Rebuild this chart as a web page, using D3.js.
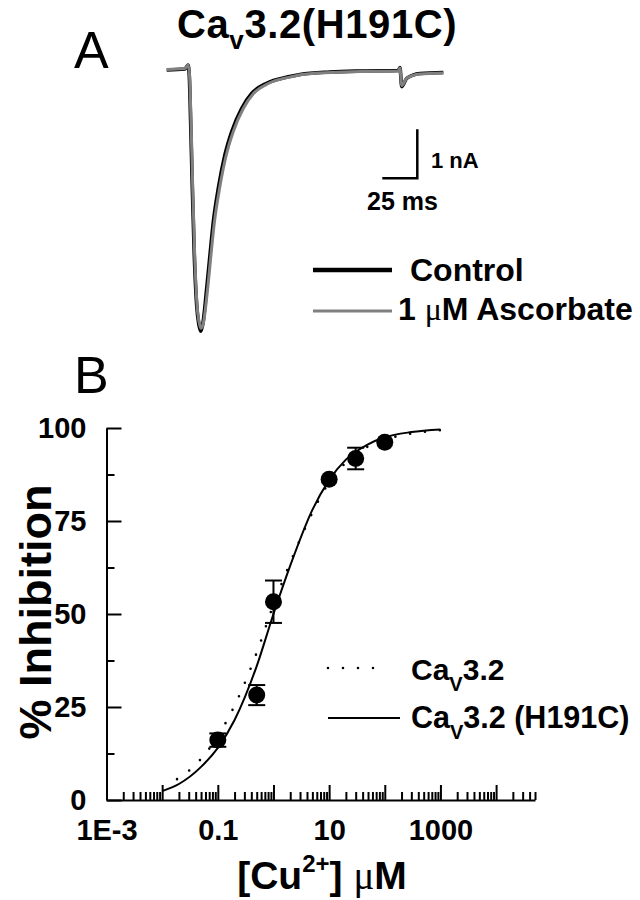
<!DOCTYPE html>
<html>
<head>
<meta charset="utf-8">
<script src="https://cdn.jsdelivr.net/npm/d3@7"></script>
<style>
  html, body { margin: 0; padding: 0; background: #fff; }
  svg { display: block; font-family: "Liberation Sans", Arial, sans-serif; }
  .bold { font-weight: bold; }
</style>
</head>
<body>
<svg id="fig" width="640" height="900"></svg>
<script>
// ---- panel A : current traces (ms, nA) ----
const controlTime = [0, 13, 15.2, 16.1, 17.1, 18.3, 19.7, 21.4, 23.0, 24.3, 25.8, 28.6, 30.9, 33.3, 36.9, 41.6, 46.4, 53.6, 60.7, 71.4, 86.9, 95.2, 116.6, 140.2, 165.4, 166.6, 167.9, 171.4, 180.9, 197.6];
const controlCurrent = [0, 0.02, 0.1, -0.1, -1.06, -2.41, -3.78, -4.80, -5.20, -5.33, -5.18, -4.45, -3.78, -3.10, -2.41, -1.73, -1.26, -0.78, -0.48, -0.27, -0.14, -0.09, -0.04, -0.02, -0.01, 0.05, -0.34, -0.17, -0.07, -0.05];
const ascorbateTime = [0, 13, 15.3, 16.3, 17.4, 18.6, 20.0, 21.7, 23.4, 24.6, 26.3, 29.3, 31.6, 34.1, 37.8, 42.6, 47.5, 54.8, 62.0, 73.0, 88.5, 97, 118, 141, 165.4, 166.6, 167.9, 171.4, 180.9, 197.6];
const ascorbateCurrent = [0.01, 0.03, 0.1, -0.1, -1.06, -2.41, -3.78, -4.80, -5.18, -5.27, -5.15, -4.45, -3.78, -3.10, -2.41, -1.73, -1.26, -0.78, -0.48, -0.27, -0.14, -0.09, -0.05, -0.03, -0.02, 0.04, -0.32, -0.17, -0.08, -0.06];
const scaleBarMs = 25;
const scaleBarNA = 1;

// ---- panel B : dose response ----
const cuConc = [0.1, 0.5, 1, 10, 30, 100];
const inhibition = [16.1, 28.2, 53.3, 86.2, 91.8, 96.2];
const inhibitionErr = [1.8, 2.7, 5.7, 0, 2.9, 0];

const fitH191CConc = [0.01, 0.02, 0.05, 0.1, 0.2, 0.5, 1, 2, 5, 10, 20, 50, 100, 300, 1000];
const fitH191CVal = [2.4, 4.3, 8.9, 14, 21.5, 36, 50, 63, 78, 86, 91.5, 95.6, 97.5, 98.9, 99.6];
const fitWTConc = [0.0185, 0.0333, 0.0587, 0.132, 0.242, 0.5, 1, 1.93, 3.21, 10, 30, 100, 213, 1000];
const fitWTVal = [5.6, 8.4, 12.3, 20.2, 28, 39.6, 52.5, 63.2, 71, 85.4, 92.9, 96.9, 98.1, 99.4];

const yTicks = [0, 25, 50, 75, 100];
const yMinorTicks = [12.5, 37.5, 62.5, 87.5];
const xMajorTicks = [1e-3, 1e-2, 1e-1, 1, 10, 100, 1000, 1e4];
const xLabelTicks = [1e-3, 0.1, 10, 1000];
const xTickLabels = ["1E-3", "0.1", "10", "1000"];

const svg = d3.select("#fig");
const serif = "'Liberation Serif', 'DejaVu Serif', serif";

// ================= Panel A =================
svg.append("text").attr("x", 74).attr("y", 68).attr("font-size", 52).text("A");
svg.append("text").attr("x", 74).attr("y", 393).attr("font-size", 52).text("B");

const title = svg.append("text").attr("class", "bold").attr("x", 177).attr("y", 38)
  .attr("font-size", 40).attr("letter-spacing", 0.6);
title.append("tspan").text("Ca");
title.append("tspan").attr("font-size", 26).attr("dy", 11).text("v");
title.append("tspan").attr("dy", -11).text("3.2(H191C)");

const tx = d3.scaleLinear().domain([0, 100]).range([166.7, 306.7]);
const ty = d3.scaleLinear().domain([0, -1]).range([70, 119]);

const traceLine = d3.line()
  .x(d => tx(d[0]))
  .y(d => ty(d[1]))
  .curve(d3.curveMonotoneX);

const controlData = controlTime.map((t, i) => [t, controlCurrent[i]]);
const ascorbateData = ascorbateTime.map((t, i) => [t, ascorbateCurrent[i]]);

svg.append("path").datum(controlData)
  .attr("d", traceLine).attr("fill", "none")
  .attr("stroke", "#000").attr("stroke-width", 3.6).attr("stroke-linejoin", "round");
svg.append("path").datum(ascorbateData)
  .attr("d", traceLine).attr("fill", "none")
  .attr("stroke", "#808080").attr("stroke-width", 3).attr("stroke-linejoin", "round");

// scale bar
const sbX = 382.3, sbY = 178.3;
svg.append("path")
  .attr("d", `M${sbX},${sbY}H${sbX + tx(scaleBarMs) - tx(0)}V${sbY - (ty(-scaleBarNA) - ty(0))}`)
  .attr("fill", "none").attr("stroke", "#000").attr("stroke-width", 2.5);
svg.append("text").attr("class", "bold").attr("x", 431).attr("y", 168).attr("font-size", 22).text("1 nA");
svg.append("text").attr("class", "bold").attr("x", 367).attr("y", 210).attr("font-size", 25).text("25 ms");

// legend A
svg.append("line").attr("x1", 313).attr("x2", 392).attr("y1", 270).attr("y2", 270)
  .attr("stroke", "#000").attr("stroke-width", 4.5);
svg.append("line").attr("x1", 313).attr("x2", 392).attr("y1", 311).attr("y2", 311)
  .attr("stroke", "#808080").attr("stroke-width", 3);
svg.append("text").attr("class", "bold").attr("x", 410).attr("y", 281).attr("font-size", 32).text("Control");
const asc = svg.append("text").attr("class", "bold").attr("x", 398).attr("y", 320).attr("font-size", 32);
asc.append("tspan").text("1 ");
asc.append("tspan").attr("font-family", serif).attr("font-weight", "normal").text("μ");
asc.append("tspan").text("M Ascorbate");

// ================= Panel B =================
const x = d3.scaleLog().domain([1e-3, 5e4]).range([106.5, 535]);
const y = d3.scaleLinear().domain([0, 100]).range([800, 428]);

const xMinor = [];
for (let e = -3; e <= 4; e++) {
  for (let m = 2; m <= 9; m++) {
    const v = m * Math.pow(10, e);
    if (v <= 5e4) xMinor.push(v);
  }
}

const xAxis = d3.axisBottom(x)
  .tickValues(xMajorTicks)
  .tickSize(-15).tickSizeOuter(0).tickPadding(19)
  .tickFormat(d => {
    const i = xLabelTicks.findIndex(v => Math.abs(Math.log10(v) - Math.log10(d)) < 1e-6);
    return i >= 0 ? xTickLabels[i] : "";
  });
const xAxisMinor = d3.axisBottom(x).tickValues(xMinor).tickSize(-8).tickSizeOuter(0).tickFormat("");

const gx = svg.append("g").attr("transform", "translate(0,800)").call(xAxis);
const gxm = svg.append("g").attr("transform", "translate(0,800)").call(xAxisMinor);

const yAxis = d3.axisLeft(y).tickValues(yTicks).tickSize(-15).tickSizeOuter(0).tickPadding(20);
const yAxisMinor = d3.axisLeft(y).tickValues(yMinorTicks).tickSize(-8).tickSizeOuter(0).tickFormat("");
const gy = svg.append("g").attr("transform", "translate(106.5,0)").call(yAxis);
const gym = svg.append("g").attr("transform", "translate(106.5,0)").call(yAxisMinor);

[gx, gxm, gy, gym].forEach(g => {
  g.selectAll("path").attr("stroke", "#000").attr("stroke-width", 2);
  g.selectAll("line").attr("stroke", "#000").attr("stroke-width", 2);
  g.selectAll("text").attr("fill", "#000").attr("font-size", 29).attr("font-weight", "bold")
    .attr("font-family", "'Liberation Sans', Arial, sans-serif");
});
gxm.select("path").remove();
gym.select("path").remove();

// fit curves
const fitLine = d3.line().x(d => x(d[0])).y(d => y(d[1])).curve(d3.curveMonotoneX);
svg.append("path").datum(fitWTConc.map((c, i) => [c, fitWTVal[i]]))
  .attr("d", fitLine).attr("fill", "none").attr("stroke", "#000")
  .attr("stroke-width", 2.6).attr("stroke-linecap", "round").attr("stroke-dasharray", "0 15");
svg.append("path").datum(fitH191CConc.map((c, i) => [c, fitH191CVal[i]]))
  .attr("d", fitLine).attr("fill", "none").attr("stroke", "#000").attr("stroke-width", 2);

// error bars
const pts = cuConc.map((c, i) => ({ c, v: inhibition[i], e: inhibitionErr[i] }));
const eb = svg.append("g").selectAll("g").data(pts.filter(d => d.e > 0)).join("g")
  .attr("stroke", "#000").attr("stroke-width", 2);
eb.append("line").attr("x1", d => x(d.c)).attr("x2", d => x(d.c))
  .attr("y1", d => y(d.v + d.e)).attr("y2", d => y(d.v - d.e));
eb.append("line").attr("x1", d => x(d.c) - 8.5).attr("x2", d => x(d.c) + 8.5)
  .attr("y1", d => y(d.v + d.e)).attr("y2", d => y(d.v + d.e));
eb.append("line").attr("x1", d => x(d.c) - 8.5).attr("x2", d => x(d.c) + 8.5)
  .attr("y1", d => y(d.v - d.e)).attr("y2", d => y(d.v - d.e));

svg.append("g").selectAll("circle").data(pts).join("circle")
  .attr("cx", d => x(d.c)).attr("cy", d => y(d.v)).attr("r", 8.5).attr("fill", "#000");

// axis titles
svg.append("text").attr("class", "bold")
  .attr("transform", "translate(51,612) rotate(-90)")
  .attr("text-anchor", "middle").attr("font-size", 45).text("% Inhibition");

const xt = svg.append("text").attr("class", "bold").attr("x", 322).attr("y", 889)
  .attr("text-anchor", "middle").attr("font-size", 39);
xt.append("tspan").text("[Cu");
xt.append("tspan").attr("font-size", 24).attr("dy", -17).text("2+");
xt.append("tspan").attr("dy", 17).text("] ");
xt.append("tspan").attr("font-family", serif).attr("font-weight", "normal").text("μ");
xt.append("tspan").text("M");

// legend B
svg.append("path").datum([[328, 668], [388, 668]])
  .attr("d", d3.line()).attr("stroke", "#000").attr("stroke-width", 2.6)
  .attr("stroke-linecap", "round").attr("stroke-dasharray", "0 15");
svg.append("line").attr("x1", 328).attr("x2", 400).attr("y1", 718).attr("y2", 718)
  .attr("stroke", "#000").attr("stroke-width", 2);

const l1 = svg.append("text").attr("class", "bold").attr("x", 411).attr("y", 680).attr("font-size", 30);
l1.append("tspan").text("Ca");
l1.append("tspan").attr("font-size", 20).attr("dy", 11).text("V");
l1.append("tspan").attr("dy", -11).text("3.2");
const l2 = svg.append("text").attr("class", "bold").attr("x", 411).attr("y", 728).attr("font-size", 30.5);
l2.append("tspan").text("Ca");
l2.append("tspan").attr("font-size", 20).attr("dy", 11).text("V");
l2.append("tspan").attr("dy", -11).text("3.2 (H191C)");
</script>
</body>
</html>
